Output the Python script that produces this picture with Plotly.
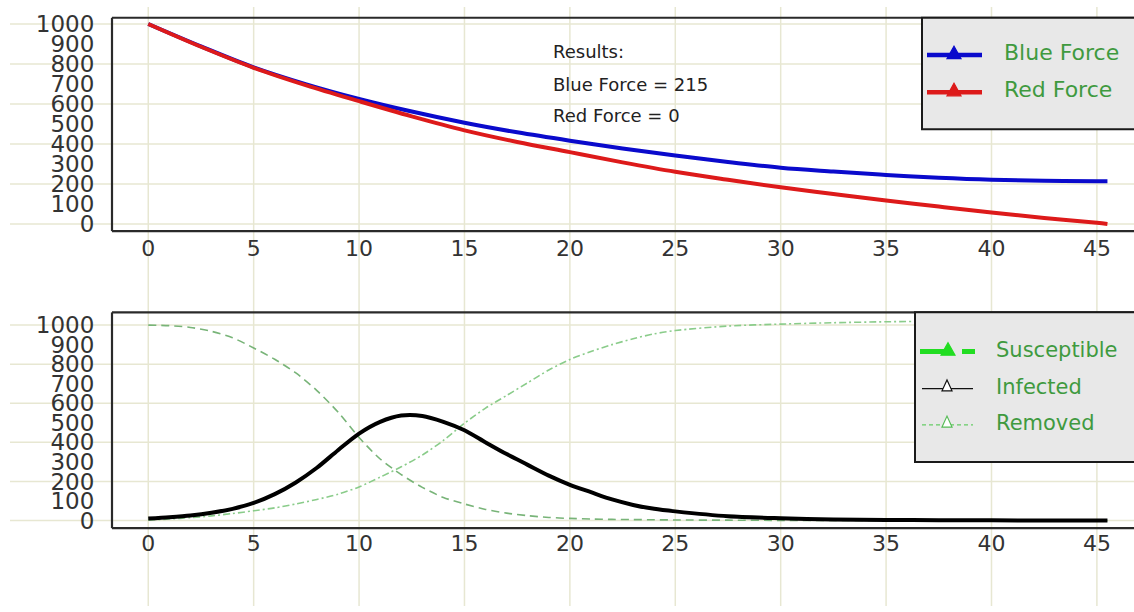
import plotly.graph_objects as go

W, H = 1134, 612

# ---------------- data ----------------
TIME_TOP = [0, 2.5, 5, 7.5, 10, 12.5, 15, 17.5, 20, 22.5, 25, 27.5, 30, 32.5, 35, 37.5, 40, 42.5, 45, 45.5]
BLUE_FORCE = [1000, 888, 783, 698, 625, 562, 506, 458, 416, 377, 342, 310, 281, 262, 245, 231, 221, 216, 214, 214]
RED_FORCE = [1000, 886, 781, 693, 614, 538, 468, 410, 359, 308, 261, 221, 183, 150, 117, 87, 57, 30, 6, 0]

TIME_BOT = [0, 1, 2, 3, 4, 5, 6, 7, 8, 9, 10, 11, 12, 13, 14, 15, 16, 17, 18, 19, 20,
            21, 22, 23, 24, 25, 27.5, 30, 32.5, 35, 37.5, 40, 42.5, 45.5]
SUSCEPTIBLE = [1000, 997, 988, 968, 935, 883, 825, 755, 665, 555, 425, 315, 235, 170, 118, 85, 57, 38, 25, 16, 11,
               8, 6, 5, 4, 3, 2, 1, 1, 0, 0, 0, 0, 0]
INFECTED = [10, 17, 26, 40, 60, 90, 135, 195, 270, 360, 445, 505, 537, 535, 505, 462, 400, 340, 285, 230, 183,
            145, 108, 80, 60, 47, 22, 12, 6, 3, 2, 1, 0, 0]
REMOVED = [2, 8, 15, 24, 36, 50, 65, 85, 108, 135, 172, 222, 275, 335, 410, 498, 575, 640, 705, 770, 824,
           865, 900, 930, 955, 972, 995, 1005, 1012, 1017, 1020, 1022, 1023, 1024]

X_TICKS = [0, 5, 10, 15, 20, 25, 30, 35, 40, 45]
Y_TICKS = [0, 100, 200, 300, 400, 500, 600, 700, 800, 900, 1000]
Y_GRID = [0, 200, 400, 600, 800, 1000]

RESULT_LINES = ["Results:", "Blue Force = 215", "Red Force = 0"]
TOP_LEGEND = ["Blue Force", "Red Force"]
BOT_LEGEND = ["Susceptible", "Infected", "Removed"]

# ---------------- styling ----------------
FONT = "DejaVu Sans"
GRID_COLOR = "#e7e7d2"
FRAME_COLOR = "#2a2a2a"
LEG_TEXT = "#3f9a3f"
BLUE = "#0a0acc"
RED = "#dd1a1a"


def PX(x):
    return x / W


def PY(y):
    return 1 - y / H


fig = go.Figure()

fig.add_trace(go.Scatter(x=TIME_TOP, y=BLUE_FORCE, mode="lines", line=dict(color=BLUE, width=4, shape="spline"),
                         showlegend=False, xaxis="x", yaxis="y"))
fig.add_trace(go.Scatter(x=TIME_TOP, y=RED_FORCE, mode="lines", line=dict(color=RED, width=4, shape="spline"),
                         showlegend=False, xaxis="x", yaxis="y"))

fig.add_trace(go.Scatter(x=TIME_BOT, y=SUSCEPTIBLE, mode="lines",
                         line=dict(color="#78b478", width=1.6, dash="8px,5px", shape="spline", smoothing=0.8),
                         showlegend=False, xaxis="x2", yaxis="y2"))
fig.add_trace(go.Scatter(x=TIME_BOT, y=REMOVED, mode="lines",
                         line=dict(color="#8acc8a", width=1.6, dash="7px,3px,2px,3px", shape="spline", smoothing=0.8),
                         showlegend=False, xaxis="x2", yaxis="y2"))
fig.add_trace(go.Scatter(x=TIME_BOT, y=INFECTED, mode="lines",
                         line=dict(color="#000000", width=4, shape="spline", smoothing=0.8),
                         showlegend=False, xaxis="x2", yaxis="y2"))

# plot area geometry (pixels)
LEFT = 112
TOP1, BOT1 = 11, 229
TOP2, BOT2 = 312, 532.5

X_RANGE = [-1.72, 46.76]

XFONT = dict(family=FONT, size=22, color="#333333")
YFONT = dict(family=FONT, size=23, color="#333333")
axis_common = dict(showgrid=False, zeroline=False, showline=False)

fig.update_layout(
    width=W, height=H,
    margin=dict(l=0, r=0, t=0, b=0),
    paper_bgcolor="white", plot_bgcolor="rgba(0,0,0,0)",
    showlegend=False,
    xaxis=dict(domain=[PX(LEFT), 1], range=X_RANGE, tickmode="array", tickvals=X_TICKS,
               ticks="", ticklabelstandoff=2, tickfont=XFONT, anchor="y", **axis_common),
    yaxis=dict(domain=[PY(BOT1), PY(TOP1)], range=[-36, 1031], tickmode="array", tickvals=Y_TICKS,
               ticks="outside", ticklen=12, tickcolor="rgba(0,0,0,0)", tickfont=YFONT, anchor="x",
               **axis_common),
    xaxis2=dict(domain=[PX(LEFT), 1], range=X_RANGE, tickmode="array", tickvals=X_TICKS,
                ticks="", ticklabelstandoff=0, tickfont=XFONT, anchor="y2", **axis_common),
    yaxis2=dict(domain=[PY(BOT2), PY(TOP2)], range=[-39, 1065], tickmode="array", tickvals=Y_TICKS,
                ticks="outside", ticklen=12, tickcolor="rgba(0,0,0,0)", tickfont=YFONT, anchor="x2",
                **axis_common),
)

shapes = []
# vertical grid lines spanning the whole page
for t in X_TICKS:
    shapes.append(dict(type="line", xref="x", yref="paper", x0=t, x1=t, y0=0, y1=1,
                       line=dict(color=GRID_COLOR, width=1.5), layer="below"))
# horizontal grid lines (also running under the tick labels)
for yref in ["y", "y2"]:
    for v in Y_GRID:
        shapes.append(dict(type="line", xref="paper", yref=yref, x0=PX(10), x1=1, y0=v, y1=v,
                           line=dict(color=GRID_COLOR, width=1.5), layer="below"))

# frames (left, top, bottom)
for top, bot in [(TOP1, BOT1), (TOP2, BOT2)]:
    for (x0, y0, x1, y1) in [(LEFT, top, LEFT, bot), (LEFT, top, W + 5, top), (LEFT, bot, W + 5, bot)]:
        shapes.append(dict(type="line", xref="paper", yref="paper", x0=PX(x0), y0=PY(y0), x1=PX(x1), y1=PY(y1),
                           line=dict(color=FRAME_COLOR, width=2.2), layer="above"))

# legend boxes
shapes.append(dict(type="rect", xref="paper", yref="paper", x0=PX(922), x1=PX(W + 10), y0=PY(125), y1=PY(11),
                   fillcolor="#e8e8e8", line=dict(color="#1a1a1a", width=2), layer="above"))
shapes.append(dict(type="rect", xref="paper", yref="paper", x0=PX(915), x1=PX(W + 10), y0=PY(465), y1=PY(312),
                   fillcolor="#e8e8e8", line=dict(color="#1a1a1a", width=2), layer="above"))


def seg(x0, x1, y, color, width, dash="solid"):
    shapes.append(dict(type="line", xref="paper", yref="paper", x0=PX(x0), x1=PX(x1), y0=PY(y), y1=PY(y),
                       line=dict(color=color, width=width, dash=dash), layer="above"))


def tri(cx, cy, fill, edge, w=7, h=7, lw=1.2):
    path = "M {:.5f},{:.5f} L {:.5f},{:.5f} L {:.5f},{:.5f} Z".format(
        PX(cx - w), PY(cy + h * 0.6), PX(cx + w), PY(cy + h * 0.6), PX(cx), PY(cy - h))
    shapes.append(dict(type="path", xref="paper", yref="paper", path=path, fillcolor=fill,
                       line=dict(color=edge, width=lw), layer="above"))


# top legend symbols
top_leg_y = [49, 87]
for y, c in zip(top_leg_y, [BLUE, RED]):
    seg(927, 982, y, c, 4.5)
    tri(954, y - 1, c, c, w=7, h=8)

# bottom legend symbols
bot_leg_y = [352, 390, 427]
seg(920, 946, bot_leg_y[0], "#22dd22", 5)
seg(962, 975, bot_leg_y[0], "#22dd22", 5)
tri(948, bot_leg_y[0] - 1, "#22dd22", "#22dd22", w=7, h=8)
seg(922, 973, bot_leg_y[1], "#111111", 1.3)
tri(947, bot_leg_y[1] - 2, "white", "#111111", w=5, h=7)
seg(922, 973, bot_leg_y[2], "#66cc66", 1.3, dash="4px,3px")
tri(947, bot_leg_y[2] - 2, "white", "#55bb55", w=5, h=7)

fig.update_layout(shapes=shapes)

annotations = []
for text, y in zip(TOP_LEGEND, top_leg_y):
    annotations.append(dict(text=text, xref="paper", yref="paper", x=PX(1002), y=PY(y - 3), xanchor="left",
                            yanchor="middle", showarrow=False, font=dict(family=FONT, size=22, color=LEG_TEXT)))
for text, y in zip(BOT_LEGEND, bot_leg_y):
    annotations.append(dict(text=text, xref="paper", yref="paper", x=PX(994), y=PY(y - 2), xanchor="left",
                            yanchor="middle", showarrow=False, font=dict(family=FONT, size=21, color=LEG_TEXT)))
for text, y in zip(RESULT_LINES, [45, 79, 111]):
    annotations.append(dict(text=text, xref="paper", yref="paper", x=PX(551), y=PY(y), xanchor="left",
                            yanchor="middle", showarrow=False, font=dict(family=FONT, size=18, color="#222222")))
fig.update_layout(annotations=annotations)

fig.write_html("out.html")
